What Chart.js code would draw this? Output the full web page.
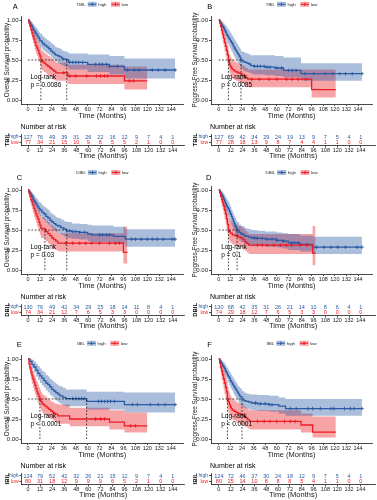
<!DOCTYPE html>
<html>
<head>
<meta charset="utf-8">
<script src="https://cdn.jsdelivr.net/npm/chart.js@4.4.1/dist/chart.umd.min.js"></script>
<style>
html, body { margin: 0; padding: 0; background: #fff; }
#wrap { position: relative; width: 377px; height: 500px; overflow: hidden; background: #fff; }
canvas { position: absolute; }
</style>
</head>
<body>
<div id="wrap"></div>
<script>
'use strict'
// tick labels
const TIME_TICKS = [0, 12, 24, 36, 48, 60, 72, 84, 96, 108, 120, 132, 144]
const SURV_TICKS = [0, 0.25, 0.5, 0.75, 1]

// A - TBIL, overall survival
const A_HIGH_T = [0,1,2,3,4,5,6,7,8,9,10,11,12,14,15,17,19,21,23,25,27,28,30,32,34,36,39,41,60,82,97,148]
const A_HIGH_S = [1,0.98,0.96,0.94,0.92,0.89,0.87,0.85,0.83,0.81,0.79,0.77,0.74,0.72,0.70,0.68,0.66,0.64,0.61,0.59,0.57,0.56,0.55,0.54,0.52,0.51,0.50,0.47,0.445,0.42,0.375,0.375]
const A_HIGH_HI = [1,1,0.99,0.98,0.97,0.95,0.93,0.92,0.90,0.89,0.87,0.85,0.83,0.81,0.79,0.77,0.75,0.73,0.71,0.69,0.67,0.66,0.65,0.64,0.62,0.61,0.60,0.58,0.57,0.55,0.52,0.52]
const A_HIGH_LO = [1,0.96,0.93,0.90,0.87,0.84,0.81,0.79,0.76,0.74,0.72,0.70,0.66,0.64,0.62,0.60,0.58,0.56,0.53,0.51,0.49,0.48,0.46,0.45,0.43,0.42,0.41,0.38,0.35,0.32,0.27,0.27]
const A_HIGH_CENS = [42,45,48,51,55,68,72,75,79,82,90,100,107,112,125,131,138,148]
const A_LOW_T = [0,1,2,3,4,5,6,7,8,9,10,11,12,13,14,16,18,20,22,24,26,28,40,97,120]
const A_LOW_S = [1,0.96,0.92,0.88,0.84,0.80,0.76,0.72,0.68,0.65,0.62,0.58,0.55,0.50,0.48,0.46,0.44,0.42,0.40,0.38,0.36,0.34,0.30,0.24,0.24]
const A_LOW_HI = [1,1,0.98,0.95,0.92,0.89,0.86,0.82,0.79,0.76,0.73,0.70,0.67,0.63,0.61,0.59,0.57,0.55,0.53,0.51,0.49,0.47,0.44,0.42,0.42]
const A_LOW_LO = [1,0.92,0.86,0.81,0.76,0.71,0.67,0.62,0.58,0.55,0.51,0.48,0.44,0.39,0.37,0.35,0.33,0.31,0.29,0.27,0.25,0.24,0.20,0.13,0.13]
const A_LOW_CENS = [36,42,48,59,69,73,77,80,102,106]
const A_RISK_HIGH = [127,76,49,39,31,26,22,16,12,9,7,4,1]
const A_RISK_LOW = [77,34,21,15,10,9,8,5,5,2,1,0,0]

// B - TBIL, progression free survival
const B_HIGH_T = [0,1,2,3,4,5,6,7,8,9,10,11,12,13,14,15,16,17,18,19,20,21,22,23,25,27,29,31,33,36,48,58,67,85,148]
const B_HIGH_S = [1,0.98,0.96,0.94,0.92,0.90,0.87,0.85,0.82,0.80,0.78,0.76,0.74,0.72,0.70,0.67,0.65,0.63,0.61,0.59,0.57,0.55,0.53,0.50,0.48,0.47,0.46,0.45,0.43,0.42,0.41,0.40,0.37,0.33,0.33]
const B_HIGH_HI = [1,1,0.99,0.98,0.97,0.96,0.94,0.93,0.91,0.89,0.88,0.86,0.84,0.82,0.80,0.78,0.76,0.74,0.72,0.70,0.68,0.66,0.64,0.61,0.60,0.59,0.58,0.57,0.56,0.56,0.56,0.55,0.53,0.46,0.46]
const B_HIGH_LO = [1,0.96,0.93,0.90,0.87,0.84,0.80,0.77,0.74,0.71,0.69,0.66,0.64,0.61,0.59,0.56,0.54,0.52,0.50,0.48,0.46,0.44,0.42,0.39,0.37,0.36,0.35,0.34,0.33,0.32,0.31,0.30,0.28,0.24,0.24]
const B_HIGH_CENS = [37,40,43,47,50,53,60,65,72,76,80,89,98,110,118,125,131,138,148]
const B_LOW_T = [0,1,2,3,4,5,6,7,8,9,10,11,12,13,14,16,18,20,22,24,26,28,30,96,121]
const B_LOW_S = [1,0.96,0.92,0.87,0.82,0.77,0.72,0.67,0.62,0.56,0.50,0.45,0.42,0.40,0.38,0.36,0.35,0.34,0.33,0.31,0.30,0.28,0.26,0.13,0.13]
const B_LOW_HI = [1,1,0.98,0.94,0.90,0.86,0.82,0.77,0.73,0.68,0.62,0.57,0.54,0.52,0.50,0.48,0.47,0.46,0.45,0.43,0.42,0.40,0.38,0.38,0.38]
const B_LOW_LO = [1,0.90,0.84,0.78,0.72,0.67,0.61,0.56,0.51,0.45,0.39,0.34,0.31,0.29,0.27,0.25,0.24,0.23,0.22,0.21,0.20,0.18,0.16,0.03,0.03]
const B_LOW_CENS = [34,42,52,60,70,76,82,90]
const B_RISK_HIGH = [127,69,42,34,29,24,19,13,9,7,5,4,1]
const B_RISK_LOW = [77,28,18,13,9,8,7,4,4,1,1,0,0]

// C - DBIL, overall survival
const C_HIGH_T = [0,1,2,3,4,5,6,7,8,9,10,11,12,14,16,18,20,22,24,26,28,30,33,36,39,44,52,60,64,86,98,148]
const C_HIGH_S = [1,0.98,0.96,0.94,0.92,0.89,0.87,0.85,0.83,0.81,0.79,0.77,0.75,0.72,0.70,0.67,0.65,0.62,0.60,0.58,0.56,0.55,0.53,0.51,0.49,0.48,0.47,0.45,0.44,0.42,0.385,0.385]
const C_HIGH_HI = [1,1,0.99,0.98,0.97,0.95,0.94,0.92,0.90,0.89,0.87,0.85,0.84,0.81,0.79,0.77,0.75,0.72,0.70,0.68,0.66,0.65,0.63,0.61,0.60,0.58,0.575,0.565,0.555,0.54,0.51,0.51]
const C_HIGH_LO = [1,0.96,0.93,0.90,0.87,0.84,0.81,0.79,0.77,0.74,0.72,0.70,0.67,0.64,0.62,0.59,0.57,0.54,0.52,0.50,0.48,0.46,0.44,0.42,0.40,0.39,0.38,0.36,0.35,0.33,0.29,0.29]
const C_HIGH_CENS = [42,45,48,52,57,72,75,79,82,104,108,114,120,125,130,136,145,148]
const C_LOW_T = [0,1,2,3,4,5,6,7,8,9,10,11,12,13,17,18,20,22,24,26,28,30,96,100]
const C_LOW_S = [1,0.96,0.92,0.88,0.85,0.81,0.77,0.74,0.70,0.67,0.64,0.60,0.56,0.52,0.50,0.48,0.455,0.43,0.40,0.38,0.36,0.335,0.22,0.22]
const C_LOW_HI = [1,1,0.98,0.96,0.94,0.91,0.88,0.85,0.82,0.79,0.76,0.73,0.69,0.66,0.64,0.62,0.60,0.57,0.55,0.53,0.51,0.46,0.54,0.54]
const C_LOW_LO = [1,0.91,0.85,0.80,0.76,0.71,0.67,0.63,0.59,0.55,0.52,0.48,0.44,0.40,0.38,0.36,0.33,0.31,0.28,0.26,0.25,0.23,0.08,0.08]
const C_LOW_CENS = [38,45,52,58,64,72,82,88,92]
const C_RISK_HIGH = [130,76,49,42,34,29,25,18,14,11,8,4,1]
const C_RISK_LOW = [74,34,21,12,7,6,5,3,3,0,0,0,0]

// D - DBIL, progression free survival
const D_HIGH_T = [0,1,2,3,4,5,6,7,8,9,10,11,12,13,14,15,16,17,18,19,21,23,26,28,31,34,40,48,60,66,72,84,97,148]
const D_HIGH_S = [1,0.98,0.96,0.94,0.92,0.89,0.86,0.83,0.80,0.78,0.76,0.73,0.70,0.67,0.64,0.61,0.58,0.55,0.52,0.50,0.47,0.45,0.43,0.42,0.41,0.40,0.395,0.385,0.37,0.36,0.34,0.32,0.285,0.285]
const D_HIGH_HI = [1,1,0.99,0.98,0.97,0.95,0.93,0.91,0.89,0.87,0.85,0.82,0.79,0.76,0.73,0.70,0.67,0.65,0.62,0.60,0.57,0.55,0.53,0.52,0.51,0.50,0.49,0.48,0.47,0.46,0.45,0.43,0.415,0.415]
const D_HIGH_LO = [1,0.96,0.93,0.90,0.87,0.83,0.79,0.75,0.72,0.69,0.66,0.63,0.60,0.57,0.54,0.51,0.48,0.45,0.42,0.40,0.37,0.35,0.33,0.32,0.31,0.30,0.30,0.29,0.28,0.27,0.25,0.23,0.20,0.20]
const D_HIGH_CENS = [37,40,45,50,55,60,67,75,78,82,91,101,109,116,123,131,143,148]
const D_LOW_T = [0,1,2,3,4,5,6,7,8,9,10,11,12,14,17,20,23,25,27,29,31,97,100]
const D_LOW_S = [1,0.96,0.92,0.88,0.84,0.80,0.75,0.70,0.64,0.57,0.50,0.48,0.46,0.44,0.425,0.41,0.40,0.38,0.35,0.33,0.31,0.21,0.21]
const D_LOW_HI = [1,1,0.98,0.96,0.93,0.90,0.86,0.82,0.77,0.71,0.65,0.63,0.61,0.59,0.57,0.55,0.54,0.52,0.49,0.47,0.45,0.55,0.55]
const D_LOW_LO = [1,0.91,0.85,0.80,0.75,0.70,0.64,0.58,0.52,0.45,0.38,0.36,0.34,0.32,0.30,0.29,0.28,0.26,0.24,0.22,0.20,0.06,0.06]
const D_LOW_CENS = [40,45,50,57,64,70,75,84,91]
const D_RISK_HIGH = [130,68,42,35,31,26,21,14,10,8,6,4,1]
const D_RISK_LOW = [74,29,18,12,7,6,5,3,3,0,0,0,0]

// E - IBIL, overall survival
const E_HIGH_T = [0,2,4,6,8,10,12,14,16,18,20,22,24,26,28,30,32,35,38,59,97,148]
const E_HIGH_S = [1,0.97,0.93,0.90,0.86,0.82,0.79,0.76,0.73,0.70,0.68,0.65,0.62,0.60,0.58,0.56,0.54,0.52,0.505,0.47,0.43,0.43]
const E_HIGH_HI = [1,1,0.99,0.97,0.94,0.91,0.88,0.85,0.83,0.80,0.78,0.75,0.73,0.71,0.69,0.67,0.66,0.64,0.62,0.59,0.58,0.58]
const E_HIGH_LO = [1,0.94,0.88,0.83,0.78,0.74,0.70,0.67,0.64,0.61,0.58,0.55,0.53,0.50,0.48,0.46,0.44,0.42,0.41,0.37,0.33,0.33]
const E_HIGH_CENS = [45,48,51,54,57,71,74,77,80,83,87,105,110,123,131,138,148]
const E_LOW_T = [0,1,2,3,4,5,6,7,8,9,10,11,12,13,14,15,17,19,21,23,25,27,30,42,82,97,120]
const E_LOW_S = [1,0.94,0.89,0.84,0.79,0.75,0.71,0.67,0.63,0.59,0.56,0.53,0.50,0.47,0.45,0.43,0.41,0.39,0.37,0.35,0.33,0.31,0.29,0.25,0.21,0.165,0.165]
const E_LOW_HI = [1,1,0.96,0.92,0.88,0.85,0.81,0.78,0.74,0.71,0.68,0.65,0.62,0.59,0.57,0.55,0.53,0.51,0.49,0.47,0.46,0.44,0.43,0.39,0.36,0.33,0.33]
const E_LOW_LO = [1,0.86,0.80,0.74,0.69,0.64,0.60,0.56,0.52,0.48,0.45,0.42,0.39,0.36,0.34,0.32,0.30,0.28,0.26,0.25,0.23,0.21,0.19,0.16,0.12,0.08,0.08]
const E_LOW_CENS = [68,73,77,103,108]
const E_RISK_HIGH = [124,79,52,42,32,26,21,15,12,9,7,4,1]
const E_RISK_LOW = [80,31,18,12,9,9,9,6,5,2,1,0,0]

// F - IBIL, progression free survival
const F_HIGH_T = [0,1,2,3,4,5,6,7,8,9,10,11,12,13,14,15,16,17,18,19,20,21,22,24,26,28,31,34,40,52,62,69,148]
const F_HIGH_S = [1,0.98,0.96,0.94,0.92,0.90,0.88,0.85,0.83,0.80,0.78,0.76,0.73,0.71,0.69,0.67,0.65,0.63,0.61,0.59,0.57,0.55,0.53,0.50,0.48,0.47,0.46,0.45,0.44,0.43,0.41,0.38,0.38]
const F_HIGH_HI = [1,1,0.99,0.98,0.97,0.96,0.94,0.92,0.90,0.88,0.86,0.84,0.82,0.80,0.78,0.76,0.74,0.72,0.70,0.68,0.66,0.65,0.63,0.60,0.58,0.57,0.56,0.555,0.55,0.54,0.52,0.50,0.50]
const F_HIGH_LO = [1,0.96,0.93,0.90,0.87,0.84,0.81,0.78,0.75,0.72,0.70,0.67,0.64,0.62,0.60,0.57,0.55,0.53,0.51,0.49,0.47,0.45,0.43,0.41,0.39,0.38,0.37,0.36,0.35,0.34,0.32,0.29,0.29]
const F_HIGH_CENS = [38,43,48,52,55,74,80,92,97,105,116,119,130,136,140,148]
const F_LOW_T = [0,1,2,3,4,5,6,7,8,9,10,11,12,13,14,16,18,20,22,24,26,28,30,32,85,97,121]
const F_LOW_S = [1,0.95,0.90,0.85,0.80,0.75,0.70,0.65,0.59,0.50,0.46,0.43,0.40,0.38,0.36,0.345,0.33,0.32,0.31,0.30,0.28,0.26,0.24,0.22,0.175,0.085,0.085]
const F_LOW_HI = [1,1,0.98,0.95,0.91,0.87,0.83,0.78,0.73,0.65,0.61,0.57,0.54,0.52,0.50,0.48,0.46,0.45,0.44,0.43,0.41,0.39,0.37,0.36,0.32,0.28,0.28]
const F_LOW_LO = [1,0.87,0.80,0.74,0.68,0.62,0.56,0.51,0.45,0.37,0.33,0.30,0.28,0.26,0.24,0.23,0.21,0.20,0.19,0.18,0.16,0.15,0.13,0.12,0.08,0.02,0.02]
const F_LOW_CENS = [40,47,53,60,68,74,79]
const F_RISK_HIGH = [124,72,46,37,30,24,18,12,9,7,5,4,1]
const F_RISK_LOW = [80,25,14,10,8,8,8,5,4,1,1,0,0]

// colores y fuentes
const FONT = '"Liberation Sans", Arial, sans-serif'
const BLUE = '#2a5aa4'
const RED = '#ec1c24'
const BLUE_FILL = 'rgba(42,90,164,0.4)'
const RED_FILL = 'rgba(236,28,36,0.4)'
const INK = '#1a1a1a'
Chart.defaults.font.family = FONT
Chart.defaults.color = INK

// columnas y filas de la figura
const COLS = [
    { left: 0, width: 188, axisW: 21.5, padR: 3.2, xMin: -6.5, xMax: 156 },
    { left: 188, width: 189, axisW: 23, padR: 1.8, xMin: -8, xMax: 158.5 }
]
const ROWS = [
    { top: 0, legendY: 4.3, letterY: 7.3 },
    { top: 170, legendY: 2.5, letterY: 8.3 },
    { top: 339, legendY: 4.3, letterY: 6.3 }
]
const OS_TITLE = 'Overall Survival probability'
const PFS_TITLE = 'Progress-Free Survival probability'

const group = (t, s, lo, hi, cens) => ({ t, s, lo, hi, cens })
const PANELS = [
    { id: 'A', col: 0, row: 0, letterX: 12.7, marker: 'TBIL', yTitle: OS_TITLE, p: 'p = 0.0086',
      high: group(A_HIGH_T, A_HIGH_S, A_HIGH_LO, A_HIGH_HI, A_HIGH_CENS),
      low: group(A_LOW_T, A_LOW_S, A_LOW_LO, A_LOW_HI, A_LOW_CENS), riskHigh: A_RISK_HIGH, riskLow: A_RISK_LOW },
    { id: 'B', col: 1, row: 0, letterX: 19.3, marker: 'TBIL', yTitle: PFS_TITLE, p: 'p = 0.0085',
      high: group(B_HIGH_T, B_HIGH_S, B_HIGH_LO, B_HIGH_HI, B_HIGH_CENS),
      low: group(B_LOW_T, B_LOW_S, B_LOW_LO, B_LOW_HI, B_LOW_CENS), riskHigh: B_RISK_HIGH, riskLow: B_RISK_LOW },
    { id: 'C', col: 0, row: 1, letterX: 16.7, marker: 'DBIL', yTitle: OS_TITLE, p: 'p = 0.03',
      high: group(C_HIGH_T, C_HIGH_S, C_HIGH_LO, C_HIGH_HI, C_HIGH_CENS),
      low: group(C_LOW_T, C_LOW_S, C_LOW_LO, C_LOW_HI, C_LOW_CENS), riskHigh: C_RISK_HIGH, riskLow: C_RISK_LOW },
    { id: 'D', col: 1, row: 1, letterX: 18, marker: 'DBIL', yTitle: PFS_TITLE, p: 'p = 0.1',
      high: group(D_HIGH_T, D_HIGH_S, D_HIGH_LO, D_HIGH_HI, D_HIGH_CENS),
      low: group(D_LOW_T, D_LOW_S, D_LOW_LO, D_LOW_HI, D_LOW_CENS), riskHigh: D_RISK_HIGH, riskLow: D_RISK_LOW },
    { id: 'E', col: 0, row: 2, letterX: 16.7, marker: 'IBIL', yTitle: OS_TITLE, p: 'p < 0.0001',
      high: group(E_HIGH_T, E_HIGH_S, E_HIGH_LO, E_HIGH_HI, E_HIGH_CENS),
      low: group(E_LOW_T, E_LOW_S, E_LOW_LO, E_LOW_HI, E_LOW_CENS), riskHigh: E_RISK_HIGH, riskLow: E_RISK_LOW },
    { id: 'F', col: 1, row: 2, letterX: 19.3, marker: 'IBIL', yTitle: PFS_TITLE, p: 'p < 0.0001',
      high: group(F_HIGH_T, F_HIGH_S, F_HIGH_LO, F_HIGH_HI, F_HIGH_CENS),
      low: group(F_LOW_T, F_LOW_S, F_LOW_LO, F_LOW_HI, F_LOW_CENS), riskHigh: F_RISK_HIGH, riskLow: F_RISK_LOW }
]

const wrap = document.getElementById('wrap')
function addCanvas(left, top, w, h) {
    const c = document.createElement('canvas')
    c.width = w
    c.height = h
    c.style.left = left + 'px'
    c.style.top = top + 'px'
    c.style.width = w + 'px'
    c.style.height = h + 'px'
    wrap.appendChild(c)
    return c
}

const toPts = (ts, vs) => ts.map((t, i) => ({ x: t, y: vs[i] }))
// valor de la curva escalonada en el tiempo t
function stepAt(g, t) {
    let v = g.s[0]
    g.t.forEach((ti, i) => { if (ti <= t) v = g.s[i] })
    return v
}
function medianOf(g) {
    for (let i = 0; i < g.s.length; i++) if (g.s[i] <= 0.5) return g.t[i]
    return null
}

function axisX(col, title) {
    return {
        type: 'linear', min: col.xMin, max: col.xMax,
        afterBuildTicks: s => { s.ticks = TIME_TICKS.map(v => ({ value: v })) },
        ticks: { font: { size: 5.5 }, color: INK, padding: 0, autoSkip: false, maxRotation: 0 },
        grid: { drawOnChartArea: false, drawTicks: true, tickLength: 2, color: INK, lineWidth: 0.8 },
        border: { display: true, color: INK, width: 0.8 },
        title: { display: true, text: title, color: INK, font: { size: 7.5 }, padding: { top: 0, bottom: 1.5 } }
    }
}

function drawKey(ctx, x, cy, line, fill) {
    ctx.fillStyle = fill
    ctx.fillRect(x, cy - 2.5, 9, 5)
    ctx.strokeStyle = line
    ctx.lineWidth = 1
    ctx.beginPath()
    ctx.moveTo(x + 0.5, cy); ctx.lineTo(x + 8.5, cy)
    ctx.moveTo(x + 4.5, cy - 1.7); ctx.lineTo(x + 4.5, cy + 1.7)
    ctx.stroke()
}

// letra del panel, leyenda y texto log-rank
const kmDecor = {
    id: 'kmDecor',
    afterDraw(chart, args, o) {
        const ctx = chart.ctx
        const a = chart.chartArea
        const sx = chart.scales.x
        const sy = chart.scales.y
        ctx.save()
        ctx.textBaseline = 'middle'
        ctx.textAlign = 'left'
        ctx.fillStyle = '#000'
        ctx.font = '7.5px ' + FONT
        ctx.fillText(o.letter, o.letterX, o.letterY)

        ctx.font = '6.5px ' + FONT
        ctx.fillText('Log-rank', sx.getPixelForValue(2.5), sy.getPixelForValue(0.285))
        ctx.fillText(o.p, sx.getPixelForValue(2.5), sy.getPixelForValue(0.19))

        ctx.font = '4.4px ' + FONT
        const wT = ctx.measureText(o.marker).width
        const wH = ctx.measureText('high').width
        const wL = ctx.measureText('low').width
        const total = wT + 2 + 9 + 1.5 + wH + 4.5 + 9 + 1.5 + wL
        let x = (a.left + a.right) / 2 - total / 2
        const cy = o.legendY
        ctx.fillStyle = INK
        ctx.fillText(o.marker, x, cy); x += wT + 2
        drawKey(ctx, x, cy, BLUE, BLUE_FILL); x += 10.5
        ctx.fillStyle = INK
        ctx.fillText('high', x, cy); x += wH + 4.5
        drawKey(ctx, x, cy, RED, RED_FILL); x += 10.5
        ctx.fillStyle = INK
        ctx.fillText('low', x, cy)
        ctx.restore()
    }
}

// numeros de la tabla de riesgo
const riskText = {
    id: 'riskText',
    afterDatasetsDraw(chart) {
        const ctx = chart.ctx
        ctx.save()
        ctx.font = '5.5px ' + FONT
        ctx.textAlign = 'center'
        ctx.textBaseline = 'middle'
        chart.data.datasets.forEach((ds, i) => {
            ctx.fillStyle = ds.textColor
            chart.getDatasetMeta(i).data.forEach((pt, j) => ctx.fillText(String(ds.counts[j]), pt.x, pt.y))
        })
        ctx.fillStyle = '#000'
        ctx.font = '7px ' + FONT
        ctx.textAlign = 'left'
        ctx.fillText('Number at risk', chart.chartArea.left - 1, 9)
        ctx.restore()
    }
}

function lineSet(g, color) {
    return { data: toPts(g.t, g.s), stepped: true, borderColor: color, borderWidth: 1.3, pointRadius: 0, fill: false }
}
function censorSet(g, color) {
    return {
        data: g.cens.map(t => ({ x: t, y: stepAt(g, t) })), showLine: false, pointStyle: 'cross',
        pointRadius: 1.8, pointBorderWidth: 0.9, borderColor: color, pointBorderColor: color, fill: false
    }
}
function bandSets(g, fillColor) {
    const base = { stepped: true, borderWidth: 0, borderColor: 'rgba(0,0,0,0)', pointRadius: 0 }
    return [
        { ...base, data: toPts(g.t, g.hi), backgroundColor: fillColor, fill: '+1' },
        { ...base, data: toPts(g.t, g.lo), fill: false }
    ]
}

function kmChart(P) {
    const col = COLS[P.col]
    const row = ROWS[P.row]
    const cv = addCanvas(col.left, row.top, col.width, 122)
    const mLow = medianOf(P.low)
    const mHigh = medianOf(P.high)
    const dash = { borderColor: '#000', borderWidth: 0.7, borderDash: [1.8, 1.6], pointRadius: 0, fill: false }
    const datasets = [
        { ...dash, data: [{ x: 0, y: 0.5 }, { x: Math.max(mLow, mHigh), y: 0.5 }] },
        { ...dash, data: [{ x: mLow, y: 0 }, { x: mLow, y: 0.5 }] },
        { ...dash, data: [{ x: mHigh, y: 0 }, { x: mHigh, y: 0.5 }] },
        censorSet(P.low, RED),
        censorSet(P.high, BLUE),
        lineSet(P.low, RED),
        lineSet(P.high, BLUE),
        ...bandSets(P.high, BLUE_FILL),
        ...bandSets(P.low, RED_FILL)
    ]
    return new Chart(cv, {
        type: 'line',
        data: { datasets },
        options: {
            responsive: false, animation: false, events: [],
            layout: { padding: { top: 16, right: col.padR, left: 0, bottom: 0 } },
            plugins: {
                legend: { display: false }, tooltip: { enabled: false },
                kmDecor: { letter: P.id, letterX: P.letterX, letterY: row.letterY, legendY: row.legendY, marker: P.marker, p: P.p }
            },
            scales: {
                x: { ...axisX(col, 'Time (Months)'), afterFit: s => { s.height = 18 } },
                y: {
                    type: 'linear', min: -0.05, max: 1.05,
                    afterBuildTicks: s => { s.ticks = SURV_TICKS.map(v => ({ value: v })) },
                    afterFit: s => { s.width = col.axisW },
                    ticks: { font: { size: 6 }, color: INK, padding: 1, callback: v => v.toFixed(2) },
                    grid: { drawOnChartArea: false, drawTicks: true, tickLength: 2, color: INK, lineWidth: 0.8 },
                    border: { display: true, color: INK, width: 0.8 },
                    title: { display: true, text: P.yTitle, color: INK, font: { size: 6.3 }, padding: { top: 3, bottom: 0 } }
                }
            }
        },
        plugins: [kmDecor]
    })
}

function riskChart(P) {
    const col = COLS[P.col]
    const row = ROWS[P.row]
    const cv = addCanvas(col.left, row.top + 118, col.width, 44)
    return new Chart(cv, {
        type: 'line',
        data: {
            datasets: [
                { data: TIME_TICKS.map(t => ({ x: t, y: 1 })), counts: P.riskHigh, textColor: BLUE, showLine: false, pointRadius: 0 },
                { data: TIME_TICKS.map(t => ({ x: t, y: 0 })), counts: P.riskLow, textColor: RED, showLine: false, pointRadius: 0 }
            ]
        },
        options: {
            responsive: false, animation: false, events: [],
            layout: { padding: { top: 16.15, right: col.padR, left: 0, bottom: 0 } },
            plugins: { legend: { display: false }, tooltip: { enabled: false } },
            scales: {
                x: { ...axisX(col, 'Time (Months)'), afterFit: s => { s.height = 16.5 } },
                y: {
                    type: 'linear', min: -0.5, max: 1.5,
                    afterBuildTicks: s => { s.ticks = [{ value: 0 }, { value: 1 }] },
                    afterFit: s => { s.width = col.axisW },
                    ticks: {
                        font: { size: 5 }, padding: 1,
                        color: c => (c.tick && c.tick.value === 1 ? BLUE : RED),
                        callback: v => (v === 1 ? 'high' : 'low')
                    },
                    grid: { drawOnChartArea: false, drawTicks: true, tickLength: 2, color: INK, lineWidth: 0.8 },
                    border: { display: true, color: INK, width: 0.8 },
                    title: { display: true, text: P.marker, color: '#000', font: { size: 6, weight: 'bold' }, padding: { top: 3.5, bottom: 0 } }
                }
            }
        },
        plugins: [riskText]
    })
}

PANELS.forEach(P => {
    kmChart(P)
    riskChart(P)
})
</script>
</body>
</html>
